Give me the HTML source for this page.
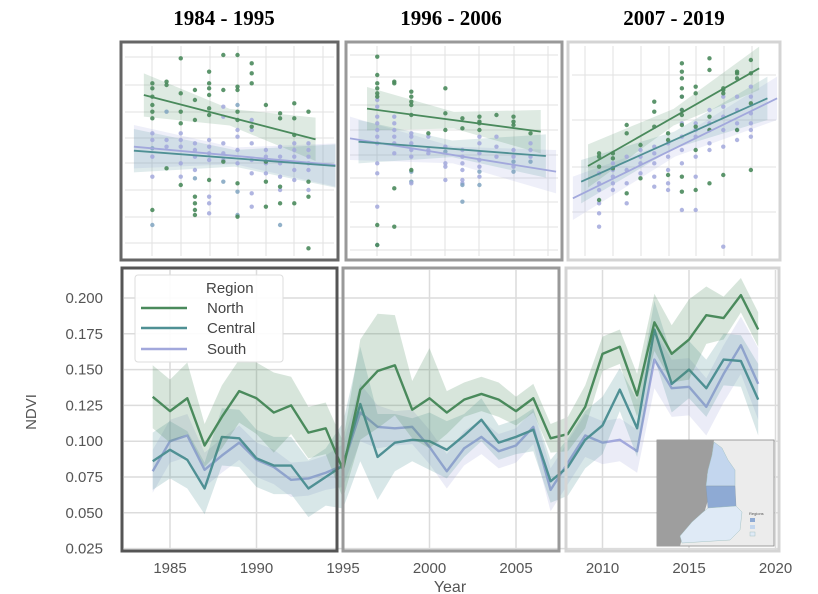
<!DOCTYPE html>
<html><head><meta charset="utf-8"><style>
body{margin:0;background:#fff;}
svg{display:block;font-family:"Liberation Sans",sans-serif;}
</style></head><body>
<svg id="fig" width="818" height="594" viewBox="0 0 818 594">
<text x="224" y="25" font-family="Liberation Serif" font-weight="bold" font-size="21" text-anchor="middle">1984 - 1995</text>
<text x="451" y="25" font-family="Liberation Serif" font-weight="bold" font-size="21" text-anchor="middle">1996 - 2006</text>
<text x="674" y="25" font-family="Liberation Serif" font-weight="bold" font-size="21" text-anchor="middle">2007 - 2019</text>
<g id="topPanels"></g>
<g id="bottom"></g>
</svg>
<script>
// ---------- bottom chart data ----------
const years = [];
for (let y = 1984; y <= 2019; y++) years.push(y);
const northVals = [0.131,0.121,0.130,0.097,0.117,0.135,0.130,0.120,0.125,0.106,0.109,0.080,
  0.136,0.149,0.153,0.122,0.130,0.120,0.129,0.133,0.129,0.121,0.130,0.102,
  0.105,0.124,0.161,0.166,0.132,0.183,0.161,0.171,0.188,0.186,0.202,0.178];
const centralVals = [0.086,0.094,0.087,0.067,0.103,0.102,0.088,0.083,0.083,0.067,0.075,0.083,
  0.126,0.089,0.099,0.101,0.100,0.094,0.104,0.115,0.099,0.103,0.108,0.072,
  0.082,0.101,0.111,0.136,0.109,0.178,0.140,0.150,0.137,0.157,0.156,0.129];
const southVals = [0.079,0.100,0.104,0.080,0.090,0.099,0.087,0.082,0.073,0.074,0.078,0.083,
  0.120,0.110,0.109,0.110,0.096,0.079,0.095,0.103,0.093,0.097,0.110,0.066,
  0.085,0.104,0.099,0.101,0.093,0.157,0.137,0.138,0.124,0.147,0.167,0.140];
const northCI = [0.022,0.022,0.025,0.015,0.022,0.022,0.025,0.028,0.02,0.018,0.018,0.02,
  0.035,0.04,0.035,0.02,0.035,0.015,0.012,0.012,0.012,0.01,0.01,0.01,
  0.012,0.015,0.012,0.012,0.015,0.02,0.02,0.028,0.02,0.015,0.012,0.012];
const centralCI = [0.02,0.02,0.02,0.018,0.02,0.02,0.02,0.02,0.02,0.02,0.02,0.03,
  0.04,0.03,0.02,0.015,0.02,0.02,0.015,0.015,0.012,0.012,0.015,0.015,
  0.02,0.02,0.02,0.015,0.02,0.02,0.02,0.02,0.02,0.018,0.018,0.025];
const southCI = [0.015,0.015,0.015,0.012,0.012,0.012,0.012,0.012,0.012,0.012,0.012,0.015,
  0.02,0.015,0.012,0.012,0.012,0.012,0.012,0.012,0.012,0.012,0.012,0.015,
  0.015,0.015,0.015,0.015,0.015,0.02,0.02,0.02,0.02,0.02,0.02,0.025];
const xTicks = [1985,1990,1995,2000,2005,2010,2015,2020];
const yTicks = [0.200,0.175,0.150,0.125,0.100,0.075,0.050,0.025];

// ---------- top panel data (arbitrary value units) ----------
const p1Years = [1984,1985,1986,1987,1988,1989,1990,1991,1992,1993,1994,1995];
const p1Green = [[54,52.5,50,47.5,45.5,43.5,16],[54.5,53.5,28.5],[61.5,51,45.5,42,23.5],[52,49,43,20,18,16,14.5],
 [57.5,54,52.5,50.5,46.5,44.5,25],[62.5,52,30.5],[62.5,53,52,45.5,43,24,14],[60,57,54,41],[47.5,30.5,24.5,17],
 [45,43.5,23,18],[48,43.5,38.5,18],[45.5,24.5,20,4.5]];
const p1Blue = [[39,37,34.5,32,26,11.5],[45.5,37,35],[39,37,35,30,26],[36,34,32,28,25.5],[37,35,33,31,20,18,15],
 [47,44,36,33,31,24.5],[47.5,40,38,34,30,21.5,14.5],[43,40,36,31,27,21,17],[34,32,30,27],[35,32,30,26,22,11.5],
 [36,34,32,28,25],[36,34,32,30,28,22]];
const p1FitYears = [1983.4,1995.5];
const p1FitGreen = [50.5,37.2];
const p1FitBlueYears = [1982.7,1996.9];
const p1FitBlue = [33.8,29.2];
const p1FitLav = [35,29.5];

const p2Years = [1996,1997,1998,1999,2000,2001,2002,2003,2004,2005];
const p2Green = [[62,56.5,54,52.5,51,50,11.5,5.5],[54.5,54,22.5,11],[51.5,50,48.5,47.5,44.5,28],[39],[52.5,45,40],
 [43.5,40.5],[44,42.5,42,40],[44.5],[44,42.5,41.5],[39]];
const p2Blue = [[49,47,44,42,40,38,36,30,27,17,5.5],[44,42,40,38,36,33],[39,38,36,34,32,27.5,24.5,24],[38,34,33],
 [35,33.5,30,29,25],[34,32,30,28,25,24,23.5,18.5],[38,36,33,31,29,27.5,26,23.5],[38,35,32],[34,32,30.5,29,27.5],[36,34,32,30.5]];
const p2FitYears = [1995.4,2005.6];
const p2FitGreen = [46.4,39.5];
const p2FitBlueYears = [1994.9,2005.9];
const p2FitBlue = [36.5,32.2];
const p2FitLavYears = [1994.4,2006.5];
const p2FitLav = [37.5,27.5];

const p3Years = [2008,2009,2010,2011,2012,2013,2014,2015,2016,2017,2018,2019];
const p3Green = [[33,32,29,19],[33,31.5,28.5],[41.5,39,21],[35.5,25.5],[45.5,48.5,41],[39,37,26.5],
 [60,57.5,55.5,52.5,50,46,44.5,41.5,26,21.5],[53,51,41,34,22],[61.5,58,44,40,24],[52.5,52,51,26.5],[57.5,57,55.5,40],[61,57,48,28]];
const p3Blue = [[27,24,22,18,15,11],[30,28,26,24,22],[32,28,24,18],[34,32,30,27],[35,33,30,26,23],[36,32,28,24,22],
 [50,46,42,38,34,30,16],[42,40,38,32,26,16],[46,42,40,36,34],[50,47,44,40,35,5],[50,46,42,40,37],[53,50,45,42,40,38]];
const p3FitYears = [2007.2,2019.6];
const p3FitGreen = [29.2,58.5];
const p3FitBlueYears = [2006.7,2020.2];
const p3FitBlue = [24.5,49.5];
const p3FitLavYears = [2006.1,2020.9];
const p3FitLav = [19.5,49.5];

const NS = "http://www.w3.org/2000/svg";
const GREEN = "#4a8a5c", TEAL = "#4f9094", LAV = "#a2a8dc";
function mk(parent, tag, attrs) {
  const e = document.createElementNS(NS, tag);
  for (const k in attrs) e.setAttribute(k, attrs[k]);
  parent.appendChild(e);
  return e;
}

// ---------- bottom chart ----------
const bot = document.getElementById("bottom");
const xB = yr => 170 + (yr - 1985) * 17.3;
const yB = v => 298 + (0.2 - v) / 0.025 * 35.8;

for (const t of yTicks) {
  const l = mk(bot, "line", {x1: 124, x2: 778, y1: yB(t), y2: yB(t), stroke: "#dcdcdc", "stroke-width": 1.5});
  
  
  const tx = mk(bot, "text", {x: 103, y: yB(t) + 5, "text-anchor": "end", "font-size": 15, fill: "#555"});
  tx.textContent = t.toFixed(3);
  
  
}
for (const t of xTicks) {
  const l = mk(bot, "line", {x1: xB(t), x2: xB(t), y1: 270, y2: 551, stroke: "#dcdcdc", "stroke-width": 1.5});
  
  
  const tx = mk(bot, "text", {x: xB(t), y: 573, "text-anchor": "middle", "font-size": 15, fill: "#555"});
  tx.textContent = t;
  
  
}
const yl = mk(bot, "text", {x: 0, y: 0, "font-size": 15, fill: "#555", "text-anchor": "middle", transform: "translate(36,412) rotate(-90)"});
yl.textContent = "NDVI";


const xl = mk(bot, "text", {x: 450, y: 592, "font-size": 16, fill: "#555", "text-anchor": "middle"});
xl.textContent = "Year";



function drawSeries(vals, ci, color, name) {
  let up = "", lo = "";
  years.forEach((y, i) => { up += (i ? "L" : "M") + xB(y) + "," + yB(vals[i] + ci[i]); });
  for (let i = years.length - 1; i >= 0; i--) lo += "L" + xB(years[i]) + "," + yB(vals[i] - ci[i]);
  const band = mk(bot, "path", {d: up + lo + "Z", fill: color, "fill-opacity": 0.22, stroke: "none"});
  
  
  let d = "";
  years.forEach((y, i) => { d += (i ? "L" : "M") + xB(y) + "," + yB(vals[i]); });
  const line = mk(bot, "path", {d: d, fill: "none", stroke: color, "stroke-width": 2.4, "stroke-linejoin": "round"});
  
  
}
drawSeries(southVals, southCI, LAV, "south");
drawSeries(centralVals, centralCI, TEAL, "central");
drawSeries(northVals, northCI, GREEN, "north");

// panel boxes bottom
[[122,268,215,283,"#555","period-box-1"],[343,268,216,283,"#999","period-box-2"],[566,268,213,283,"#d4d4d4","period-box-3"]].forEach(b => {
  const r = mk(bot, "rect", {x: b[0], y: b[1], width: b[2], height: b[3], fill: "none", stroke: b[4], "stroke-width": 3});
  
  
});

// legend
const lg = mk(bot, "g", {});


mk(lg, "rect", {x: 135, y: 275, width: 148, height: 87, rx: 3, fill: "#fff", "fill-opacity": 0.9, stroke: "#ddd"});
const lt = mk(lg, "text", {x: 206, y: 293, "font-size": 15, fill: "#444"});
lt.textContent = "Region";


[["North", GREEN, 313], ["Central", TEAL, 333], ["South", LAV, 354]].forEach(e => {
  const g = mk(lg, "g", {});
  
  
  mk(g, "line", {x1: 141, x2: 187, y1: e[2] - 5, y2: e[2] - 5, stroke: e[1], "stroke-width": 2.4});
  const t = mk(g, "text", {x: 207, y: e[2], "font-size": 15, fill: "#444"});
  t.textContent = e[0];
});

// inset map
const map = mk(bot, "g", {});


mk(map, "rect", {x: 657, y: 440, width: 117, height: 106, fill: "#ececec", stroke: "#888", "stroke-width": 0.8});
mk(map, "path", {d: "M657,440 L714,440 L712,455 L707,475 L708,500 L702,520 L683,535 L680,546 L657,546 Z", fill: "#9e9e9e"});
mk(map, "path", {d: "M714,442 L722,448 L728,460 L735,470 L735,486 L706,486 L708,470 L712,455 Z", fill: "#c3d6ee", stroke: "#9bb", "stroke-width": 0.4});
mk(map, "path", {d: "M706,486 L735,486 L736,506 L708,508 Z", fill: "#8eaad4", stroke: "#89a", "stroke-width": 0.4});
mk(map, "path", {d: "M708,508 L736,506 L742,512 L740,530 L730,540 L682,543 L680,536 L692,522 L702,513 Z", fill: "#dfeaf6", stroke: "#9bb", "stroke-width": 0.4});
mk(map, "rect", {x: 750, y: 518, width: 5, height: 4, fill: "#8eaad4"});
mk(map, "rect", {x: 750, y: 525, width: 5, height: 4, fill: "#c3d6ee"});
mk(map, "rect", {x: 750, y: 532, width: 5, height: 4, fill: "#dfeaf6", stroke: "#9bb", "stroke-width": 0.4});
const mt = mk(map, "text", {x: 749, y: 515, "font-size": 4, fill: "#555"});
mt.textContent = "Regions";

// ---------- top panels ----------
const topG = document.getElementById("topPanels");
const yT = v => 30 + (700 - 10 * v) / 3;
const panels = [
  {xf: yr => 110 + (97 + (yr - 1984) * 32.5) / 2.29, box: [121,42,217,218,"#666"],
   yrs: p1Years, g: p1Green, b: p1Blue,
   fits: [[p1FitBlueYears, p1FitLav, LAV], [p1FitBlueYears, p1FitBlue, TEAL], [p1FitYears, p1FitGreen, GREEN]],
   vgrid: [152,181,210,238,266,294,323], hgrid: [57,85,112,138,163,190,217,243]},
  {xf: yr => 110 + (612 + (yr - 1996) * 39) / 2.29, box: [346,42,216,218,"#999"],
   yrs: p2Years, g: p2Green, b: p2Blue,
   fits: [[p2FitLavYears, p2FitLav, LAV], [p2FitBlueYears, p2FitBlue, TEAL], [p2FitYears, p2FitGreen, GREEN]],
   vgrid: [377,411,445,479,514,548], hgrid: [55,77,105,130,155,178,202,227,250]},
  {xf: yr => 110 + (1120 + (yr - 2008) * 31.6) / 2.29, box: [568,42,212,218,"#d4d4d4"],
   yrs: p3Years, g: p3Green, b: p3Blue,
   fits: [[p3FitLavYears, p3FitLav, LAV], [p3FitBlueYears, p3FitBlue, TEAL], [p3FitYears, p3FitGreen, GREEN]],
   vgrid: [585,613,641,669,696,724,752], hgrid: [75,120,167,212]}
];
panels.forEach((p, pi) => {
  const g = mk(topG, "g", {});
  
  
  const [bx, by, bw, bh, bc] = p.box;
  p.vgrid.forEach(x => mk(g, "line", {x1: x, x2: x, y1: by + 4, y2: by + bh - 4, stroke: "#e2e2e2", "stroke-width": 1}));
  p.hgrid.forEach(y => mk(g, "line", {x1: bx + 4, x2: bx + bw - 4, y1: y, y2: y, stroke: "#e2e2e2", "stroke-width": 1}));
  p.fits.forEach(f => {
    const [fy, fv, col] = f;
    const x1 = p.xf(fy[0]), x2 = p.xf(fy[1]);
    const mid = (fy[0] + fy[1]) / 2, xm = p.xf(mid), vm = (fv[0] + fv[1]) / 2;
    const we = 6.5, wm = 2.5;
    const d = `M${x1},${yT(fv[0] + we)} L${xm},${yT(vm + wm)} L${x2},${yT(fv[1] + we)} L${x2},${yT(fv[1] - we)} L${xm},${yT(vm - wm)} L${x1},${yT(fv[0] - we)} Z`;
    const band = mk(g, "path", {d: d, fill: col, "fill-opacity": 0.18});
    
    
  });
  p.yrs.forEach((yr, i) => {
    p.b[i].forEach(v => {
      const c = mk(g, "circle", {cx: p.xf(yr), cy: yT(v), r: 2.2, fill: (v * 10) % 2 < 1 ? LAV : "#7fa3bf", "fill-opacity": 0.85});
      
      
    });
    p.g[i].forEach(v => {
      const c = mk(g, "circle", {cx: p.xf(yr), cy: yT(v), r: 2.2, fill: GREEN, "fill-opacity": 0.9});
      
      
    });
  });
  p.fits.forEach(f => {
    const [fy, fv, col] = f;
    const l = mk(g, "line", {x1: p.xf(fy[0]), y1: yT(fv[0]), x2: p.xf(fy[1]), y2: yT(fv[1]), stroke: col, "stroke-width": 1.8});
    
    
  });
  const r = mk(g, "rect", {x: bx, y: by, width: bw, height: bh, fill: "none", stroke: bc, "stroke-width": 3});
  
  
});
</script>
</body></html>
